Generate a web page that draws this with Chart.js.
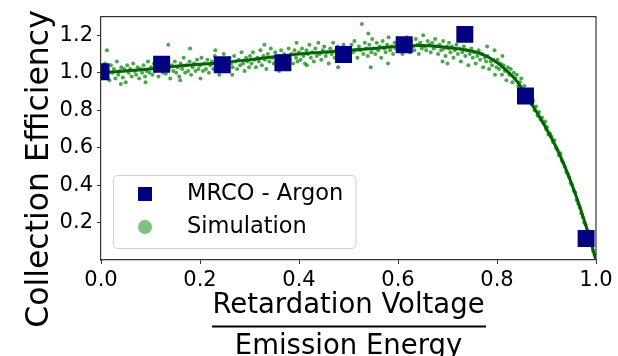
<!DOCTYPE html>
<html>
<head>
<meta charset="utf-8">
<script src="https://cdn.jsdelivr.net/npm/chart.js@4.4.0/dist/chart.umd.min.js"></script>
<style>
  html, body { margin: 0; padding: 0; background: #fff; }
</style>
</head>
<body>
<canvas id="myChart" width="618" height="356"></canvas>
<script>
// measured collection efficiency (MRCO, argon)
const argonX = [0, 0.1225, 0.245, 0.3675, 0.49, 0.6125, 0.735, 0.8575, 0.98];
const argonY = [1.005, 1.045, 1.043, 1.053, 1.098, 1.15, 1.205, 0.876, 0.115];

// smooth fit through the simulation
const fitX = [0, 0.05, 0.10, 0.15, 0.20, 0.25, 0.30, 0.35, 0.40, 0.45, 0.50, 0.55, 0.60, 0.65, 0.70, 0.74, 0.77, 0.80, 0.82, 0.84, 0.86, 0.88, 0.90, 0.92, 0.94, 0.96, 0.98, 1.00];
const fitY = [1.00, 1.01, 1.02, 1.035, 1.045, 1.055, 1.07, 1.085, 1.10, 1.11, 1.12, 1.13, 1.14, 1.145, 1.135, 1.12, 1.10, 1.055, 1.01, 0.955, 0.875, 0.79, 0.70, 0.60, 0.48, 0.34, 0.18, 0.0];

// simulated points [x, y]
const simulation = [
  [0.002,1.03],[0.005,0.98],[0.008,1.05],[0.011,0.99],[0.012,1.12],[0.014,1.01],[0.017,0.96],[0.020,1.04],[0.023,1.00],[0.026,1.02],
  [0.029,0.97],[0.032,1.06],[0.035,0.99],[0.038,1.01],[0.040,0.94],[0.041,1.03],[0.044,0.975],[0.047,1.02],[0.050,0.95],[0.053,1.04],
  [0.056,1.00],[0.059,1.02],[0.062,0.98],[0.065,1.05],[0.068,1.01],[0.071,0.99],[0.074,1.03],[0.077,0.97],[0.080,1.02],[0.083,1.00],
  [0.086,1.04],[0.089,0.98],[0.090,0.95],[0.092,1.01],[0.095,1.06],[0.098,1.00],
  [0.101,1.03],[0.104,0.99],[0.107,1.05],[0.110,1.01],[0.113,1.04],[0.116,0.98],[0.119,1.02],[0.122,1.07],[0.125,1.00],[0.128,1.03],
  [0.131,0.995],[0.134,1.05],[0.136,1.15],[0.137,1.02],[0.140,0.97],[0.143,1.04],[0.146,1.01],[0.149,1.06],[0.152,1.00],[0.155,1.03],
  [0.158,0.98],[0.160,0.96],[0.161,1.05],[0.164,1.02],[0.167,1.08],[0.170,1.00],[0.173,1.04],[0.176,1.01],[0.179,1.06],[0.180,1.13],
  [0.182,0.99],[0.185,1.03],[0.188,1.05],[0.191,1.01],[0.194,1.07],[0.197,1.02],
  [0.200,1.04],[0.201,0.97],[0.203,1.08],[0.206,1.01],[0.209,1.05],[0.212,1.02],[0.215,1.07],[0.218,1.00],[0.221,1.04],[0.224,1.06],
  [0.227,1.02],[0.230,1.09],[0.231,1.12],[0.233,1.03],[0.236,1.05],[0.239,0.99],[0.242,1.07],[0.245,1.03],[0.248,1.10],[0.251,1.04],
  [0.254,1.06],[0.257,1.01],[0.260,1.08],[0.263,1.05],[0.265,0.99],[0.266,1.03],[0.269,1.09],[0.272,1.06],[0.275,1.02],[0.278,1.07],
  [0.281,1.04],[0.284,1.11],[0.287,1.05],[0.290,1.01],[0.293,1.08],[0.296,1.06],[0.299,1.03],
  [0.301,1.09],[0.304,1.05],[0.307,1.11],[0.310,1.07],[0.313,1.03],[0.316,1.08],[0.319,1.06],[0.322,1.12],[0.325,1.04],[0.328,1.09],
  [0.330,1.15],[0.331,1.07],[0.334,1.02],[0.337,1.10],[0.340,1.06],[0.343,1.13],[0.346,1.08],[0.349,1.05],[0.352,1.11],[0.355,1.07],
  [0.358,1.03],[0.360,1.01],[0.361,1.09],[0.364,1.12],[0.367,1.06],[0.370,1.10],[0.373,1.04],[0.376,1.08],[0.379,1.13],[0.382,1.07],
  [0.385,1.10],[0.388,1.05],[0.391,1.12],[0.394,1.08],[0.395,1.16],[0.397,1.06],
  [0.400,1.11],[0.403,1.07],[0.406,1.13],[0.409,1.09],[0.412,1.05],[0.415,1.12],[0.416,1.04],[0.418,1.10],[0.421,1.15],[0.424,1.08],
  [0.427,1.11],[0.430,1.06],[0.433,1.13],[0.436,1.09],[0.439,1.16],[0.442,1.10],[0.445,1.07],[0.448,1.12],[0.451,1.14],[0.454,1.09],
  [0.457,1.11],[0.460,1.05],[0.463,1.13],[0.466,1.10],[0.469,1.16],[0.472,1.08],[0.475,1.12],[0.478,1.14],[0.479,1.03],[0.481,1.09],
  [0.484,1.11],[0.487,1.07],[0.490,1.15],[0.493,1.12],[0.496,1.10],
  [0.500,1.13],[0.503,1.09],[0.506,1.15],[0.509,1.11],[0.512,1.17],[0.515,1.12],[0.518,1.08],[0.521,1.14],[0.524,1.12],[0.527,1.26],
  [0.530,1.10],[0.533,1.16],[0.536,1.13],[0.539,1.09],[0.540,1.21],[0.542,1.15],[0.545,1.03],[0.546,1.11],[0.548,1.18],[0.551,1.13],
  [0.554,1.10],[0.557,1.16],[0.560,1.12],[0.563,1.14],[0.566,1.08],[0.569,1.17],[0.572,1.13],[0.575,1.11],[0.578,1.15],[0.580,1.05],
  [0.581,1.19],[0.584,1.12],[0.587,1.14],[0.590,1.10],[0.593,1.16],[0.596,1.13],[0.599,1.15],
  [0.600,1.12],[0.603,1.17],[0.606,1.14],[0.609,1.10],[0.612,1.16],[0.615,1.13],[0.618,1.19],[0.621,1.15],[0.624,1.11],[0.627,1.17],
  [0.630,1.14],[0.633,1.12],[0.636,1.18],[0.639,1.15],[0.642,1.10],[0.645,1.16],[0.648,1.13],[0.651,1.20],[0.654,1.14],[0.657,1.12],
  [0.660,1.17],[0.663,1.15],[0.666,1.11],[0.669,1.16],[0.672,1.13],[0.675,1.18],[0.678,1.14],[0.681,1.10],[0.684,1.15],[0.687,1.12],
  [0.690,1.06],[0.691,1.17],[0.693,1.13],[0.696,1.09],[0.699,1.14],
  [0.700,1.05],[0.702,1.13],[0.703,1.16],[0.706,1.11],[0.709,1.14],[0.712,1.08],[0.715,1.12],[0.718,1.15],[0.721,1.10],[0.724,1.13],
  [0.727,1.06],[0.730,1.11],[0.733,1.14],[0.736,1.09],[0.739,1.12],[0.742,1.04],[0.745,1.10],[0.748,1.13],[0.751,1.08],[0.754,1.11],
  [0.757,1.05],[0.760,1.09],[0.763,1.12],[0.766,1.07],[0.769,1.10],[0.772,1.03],[0.775,1.08],[0.778,1.06],[0.780,1.14],[0.781,1.09],
  [0.784,1.02],[0.787,1.06],[0.790,1.04],[0.793,1.07],[0.795,1.12],[0.796,0.99],[0.799,1.03],
  [0.801,1.07],[0.804,1.02],[0.807,1.05],[0.810,0.99],[0.811,1.09],[0.813,1.04],[0.816,1.01],[0.819,0.96],[0.822,1.03],[0.825,0.99],
  [0.828,1.02],[0.831,0.95],[0.834,1.00],[0.837,0.97],[0.840,0.99],[0.843,0.93],[0.846,0.95],[0.849,0.97],[0.852,0.91],[0.855,0.93],
  [0.858,0.89],[0.861,0.90],[0.864,0.86],[0.867,0.87],[0.870,0.83],[0.873,0.85],[0.876,0.80],[0.879,0.82],[0.882,0.77],[0.885,0.79],
  [0.888,0.75],[0.891,0.76],[0.894,0.73],[0.897,0.74],[0.899,0.70],
  [0.901,0.71],[0.904,0.67],[0.907,0.675],[0.910,0.66],[0.913,0.63],[0.916,0.64],[0.919,0.60],[0.922,0.59],[0.925,0.56],[0.928,0.57],
  [0.931,0.53],[0.934,0.52],[0.937,0.50],[0.940,0.47],[0.943,0.46],[0.946,0.44],[0.949,0.41],[0.952,0.40],[0.955,0.37],[0.958,0.36],
  [0.961,0.32],[0.964,0.30],[0.967,0.28],[0.970,0.25],[0.973,0.23],[0.976,0.20],[0.979,0.19],[0.982,0.16],[0.985,0.13],[0.988,0.11],
  [0.991,0.08],[0.994,0.05],[0.997,0.03]
];

const xTicks = [0, 0.2, 0.4, 0.6, 0.8, 1.0];
const yTicks = [0.2, 0.4, 0.6, 0.8, 1.0, 1.2];

const FONT = '"DejaVu Sans", "Liberation Sans", sans-serif';
const SPINE = '#333';

// spines on top/right, in-axes legend and the axis titles
const decorations = {
  id: 'decorations',
  afterDraw(chart) {
    const { ctx, chartArea: a } = chart;
    ctx.save();

    ctx.strokeStyle = SPINE;
    ctx.lineWidth = 1.2;
    ctx.beginPath();
    ctx.moveTo(a.left, a.top);
    ctx.lineTo(a.right, a.top);
    ctx.lineTo(a.right, a.bottom);
    ctx.stroke();

    // legend box
    const bx = 113.5, by = 175.5, bw = 242.5, bh = 73, r = 4;
    ctx.beginPath();
    ctx.roundRect(bx, by, bw, bh, r);
    ctx.fillStyle = 'rgba(255,255,255,0.8)';
    ctx.fill();
    ctx.strokeStyle = '#d0d0d0';
    ctx.lineWidth = 1;
    ctx.stroke();

    ctx.fillStyle = '#000080';
    ctx.fillRect(138, 187, 14, 14);
    ctx.beginPath();
    ctx.arc(145, 227, 7, 0, Math.PI * 2);
    ctx.fillStyle = 'rgba(0,128,0,0.5)';
    ctx.fill();

    ctx.fillStyle = '#000';
    ctx.font = '22.5px ' + FONT;
    ctx.textAlign = 'left';
    ctx.textBaseline = 'middle';
    ctx.fillText('MRCO - Argon', 187, 194);
    ctx.fillText('Simulation', 187, 227);

    // x title as a fraction
    ctx.font = '27.5px ' + FONT;
    ctx.textAlign = 'center';
    ctx.textBaseline = 'alphabetic';
    ctx.fillText('Retardation Voltage', 348.5, 313);
    ctx.fillRect(212, 325.5, 274, 2);
    ctx.fillText('Emission Energy', 348.5, 354);

    // y title
    ctx.translate(47.5, 169);
    ctx.rotate(-Math.PI / 2);
    ctx.font = '31.5px ' + FONT;
    ctx.fillText('Collection Efficiency', 0, 0);

    ctx.restore();
  }
};

const ctx = document.getElementById('myChart');

const myChart = new Chart(ctx, {
  type: 'scatter',
  data: {
    datasets: [
      {
        label: 'MRCO - Argon',
        data: argonX.map((x, i) => ({ x: x, y: argonY[i] })),
        pointStyle: 'rect',
        pointRadius: 12,
        backgroundColor: '#000080',
        borderWidth: 0,
        order: 0
      },
      {
        type: 'line',
        label: 'fit',
        data: fitX.map((x, i) => ({ x: x, y: fitY[i] })),
        borderColor: '#006400',
        borderWidth: 3,
        pointRadius: 0,
        fill: false,
        cubicInterpolationMode: 'monotone',
        order: 1
      },
      {
        label: 'Simulation',
        data: simulation.map(p => ({ x: p[0], y: p[1] })),
        pointRadius: 2,
        backgroundColor: 'rgba(0,128,0,0.7)',
        borderWidth: 0,
        order: 2
      }
    ]
  },
  options: {
    responsive: false,
    animation: false,
    layout: { padding: { left: 0, right: 22, top: 14, bottom: 0 } },
    plugins: {
      legend: { display: false },
      tooltip: { enabled: false }
    },
    scales: {
      x: {
        type: 'linear',
        min: 0,
        max: 1,
        afterFit: s => { s.height = 96; },
        afterBuildTicks: s => { s.ticks = xTicks.map(v => ({ value: v })); },
        ticks: {
          callback: v => v.toFixed(1),
          font: { family: FONT, size: 21 },
          color: '#000',
          padding: 4,
          maxRotation: 0
        },
        grid: { drawOnChartArea: false, drawTicks: true, tickLength: 4, tickColor: SPINE },
        border: { display: true, color: SPINE, width: 1.2 }
      },
      y: {
        type: 'linear',
        min: 0,
        max: 1.3,
        afterFit: s => { s.width = 101; },
        afterBuildTicks: s => { s.ticks = yTicks.map(v => ({ value: v })); },
        ticks: {
          callback: v => v.toFixed(1),
          font: { family: FONT, size: 21 },
          color: '#000',
          padding: 4
        },
        grid: { drawOnChartArea: false, drawTicks: true, tickLength: 4, tickColor: SPINE },
        border: { display: true, color: SPINE, width: 1.2 }
      }
    }
  },
  plugins: [decorations]
});
</script>
</body>
</html>
